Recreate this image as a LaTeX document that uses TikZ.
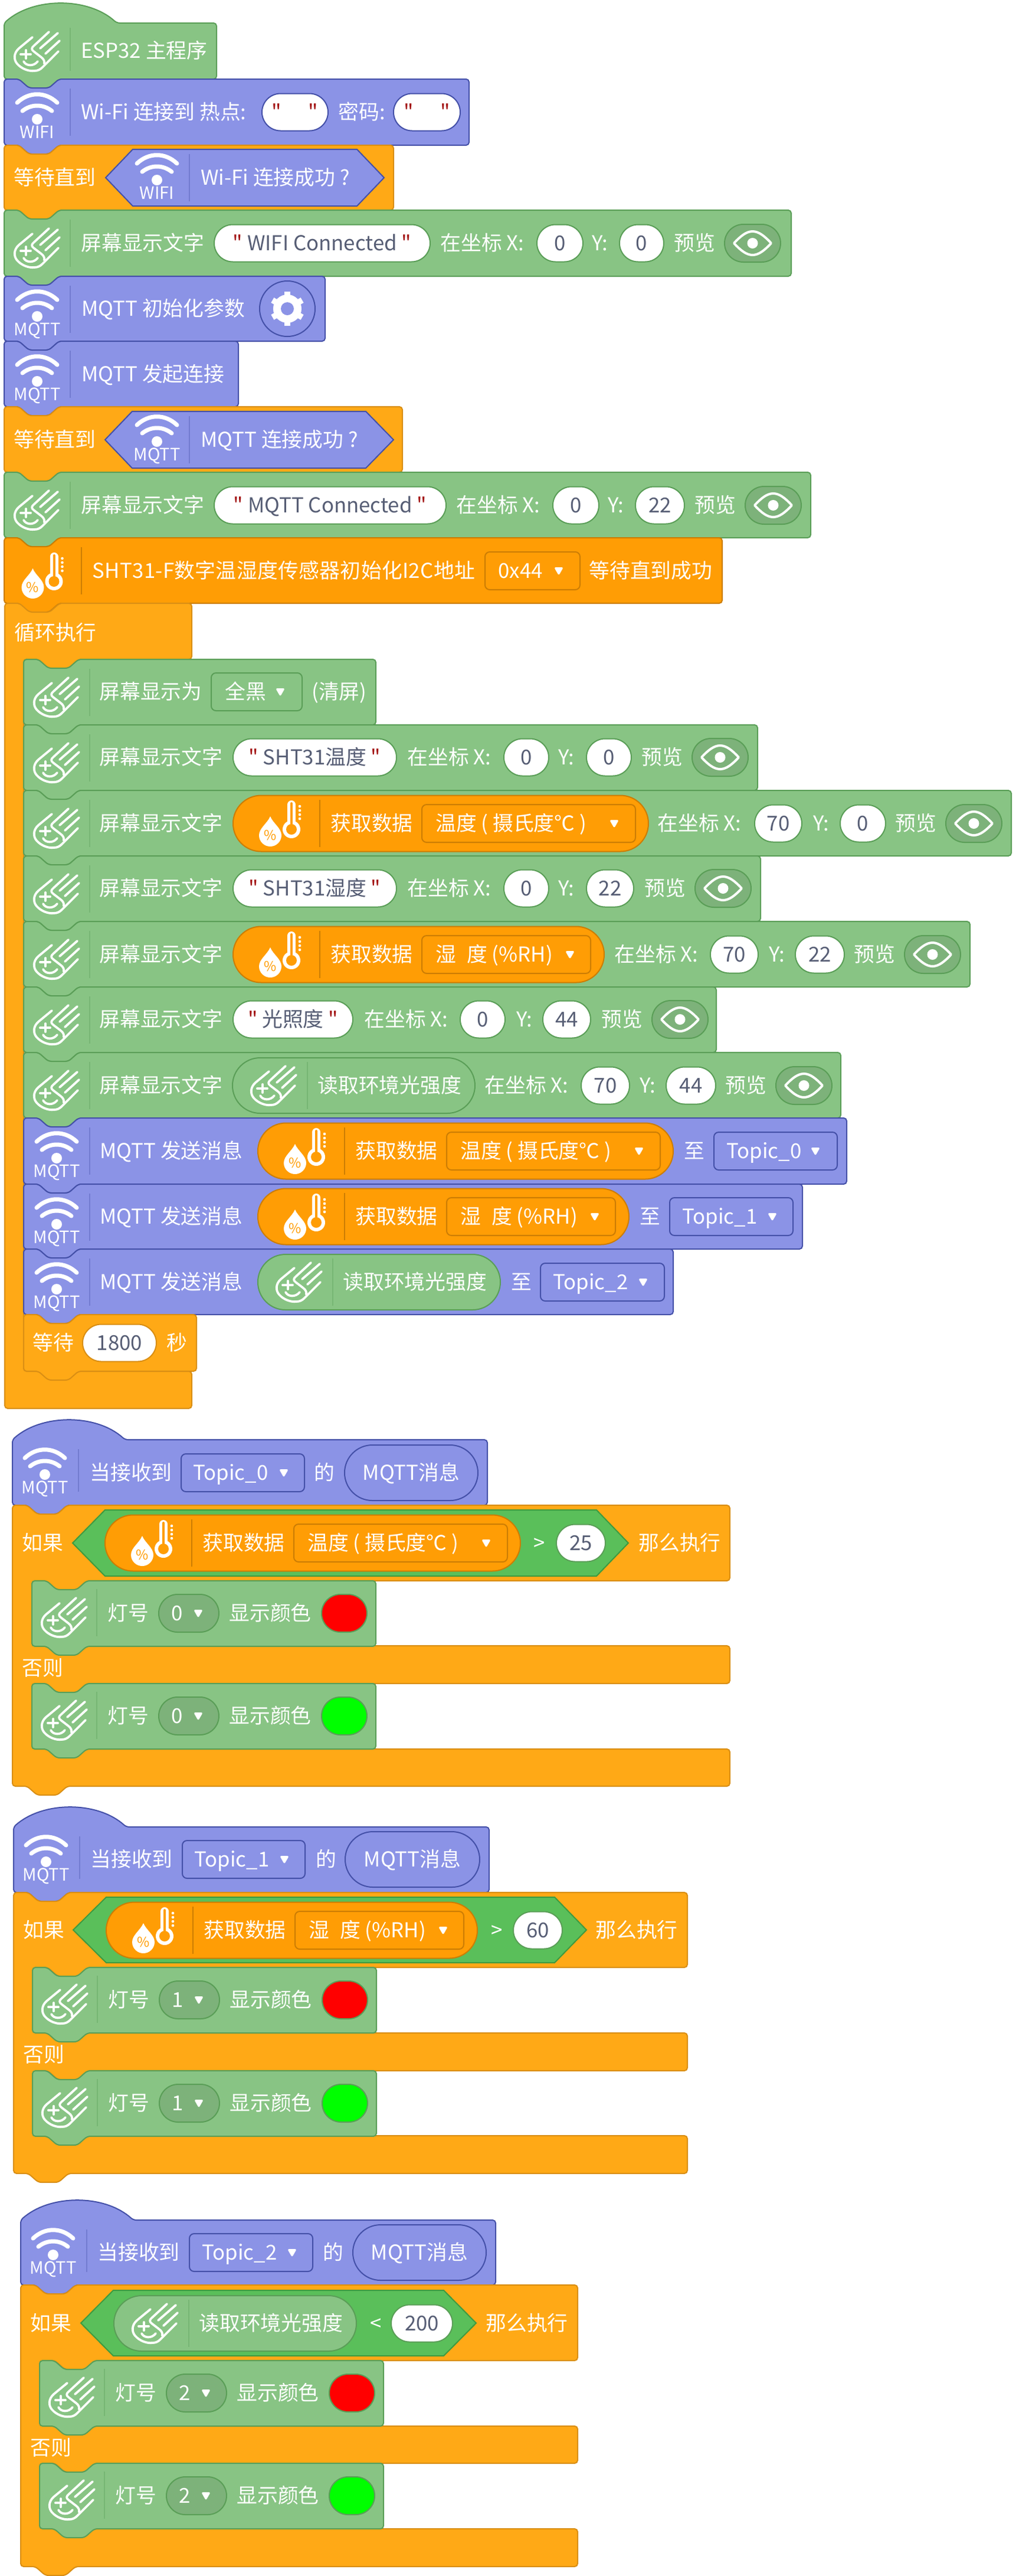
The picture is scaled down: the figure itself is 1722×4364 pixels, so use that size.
\documentclass[tikz,border=0pt]{standalone}
\usepackage{fontspec}
\setmainfont{Noto Sans CJK SC}
\newfontfamily\qfont{Noto Sans CJK SC}
\usetikzlibrary{shapes.misc}

\definecolor{gfill}{HTML}{88C484}
\definecolor{gline}{HTML}{5A9E57}
\definecolor{gdark}{HTML}{7DB27A}
\definecolor{bfill}{HTML}{8B93E6}
\definecolor{bline}{HTML}{4450A8}
\definecolor{lfill}{HTML}{FFA916}
\definecolor{lline}{HTML}{D98E14}
\definecolor{sfill}{HTML}{FF9D05}
\definecolor{sline}{HTML}{CC7D04}
\definecolor{hfill}{HTML}{5ABF5A}
\definecolor{hline}{HTML}{3F9A3F}
\definecolor{valtxt}{HTML}{575E75}
\definecolor{qred}{HTML}{A31515}

% blocks
\newcommand{\blk}[5]{\draw[#1] (#2,#4) -- ++(25,0) -- ++(17,15) -- ++(34,0) -- ++(17,-15) -- (#3,#4) -- (#3,#5) -- (#2+93,#5) -- ++(-17,15) -- ++(-34,0) -- ++(-17,-15) -- (#2,#5) -- cycle;}
\newcommand{\hatblk}[5]{\draw[#1] (#2,#4) .. controls (#2+50,#4-44) and (#2+142,#4-44) .. (#2+191,#4) -- (#3,#4) -- (#3,#5) -- (#2+93,#5) -- ++(-17,15) -- ++(-34,0) -- ++(-17,-15) -- (#2,#5) -- cycle;}
\newcommand{\ifblk}[8]{\draw[lblk] (#1,#3) -- ++(25,0) -- ++(17,15) -- ++(34,0) -- ++(17,-15) -- (#2,#3) -- (#2,#4) -- (#1+126,#4) -- ++(-17,15) -- ++(-34,0) -- ++(-17,-15) -- (#1+33,#4) -- (#1+33,#5) -- (#2,#5) -- (#2,#6) -- (#1+126,#6) -- ++(-17,15) -- ++(-34,0) -- ++(-17,-15) -- (#1+33,#6) -- (#1+33,#7) -- (#2,#7) -- (#2,#8) -- (#1+93,#8) -- ++(-17,15) -- ++(-34,0) -- ++(-17,-15) -- (#1,#8) -- cycle;}
\newcommand{\hexb}[7]{\draw[#1] (#2,{(#6+#7)/2}) -- (#3,#6) -- (#4,#6) -- (#5,{(#6+#7)/2}) -- (#4,#7) -- (#3,#7) -- cycle;}

% texts and fields
\newcommand{\lbl}[4]{\node[lbl] (#1) at ({#2},{#3}) {#4};}
\newcommand{\pil}[6]{\pgfmathsetmacro{\pw}{(#4-#3)/2}\node[#1, minimum width=\pw pt] (#2) at ({(#3+#4)/2},{#5}) {#6};}
\newcommand{\ddown}[8]{\pgfmathsetmacro{\pw}{(#4-#3)/2}\node[#1, minimum width=\pw pt] (#2) at ({(#3+#4)/2},{#7}) {};
  \lbl{#2t}{#5}{#7}{#8}
  \fill[white, rounded corners=1.5pt] (#6-8,#7-6) -- (#6+8,#7-6) -- (#6,#7+8) -- cycle;}
\newcommand{\q}[1]{{\qfont\color{qred}"} #1 {\qfont\color{qred}"}}

% icons
\newcommand{\handicon}[2]{\begin{scope}[shift={(#1,#2)}, white, line width=1.9pt, line cap=round, line join=round]
  \draw (-8,-24) -- (-31,-5) .. controls (-40,3) and (-40,14) .. (-34,21) .. controls (-26,30) and (-14,34) .. (-5,33) .. controls (1,33) and (5,31) .. (9,27) -- (36,0);
  \draw (20,-33) -- (-5,-10) .. controls (-10,-6) and (-10,-3) .. (-6,0) -- (7,10) .. controls (11,13) and (13,17) .. (12,21);
  \draw (35,-31) -- (5,-5);
  \draw (38,-18) -- (14,4);
  \draw (-28,5) -- (-11,5) (-19,-2) -- (-19,12);
  \draw (-23,17) .. controls (-19,25) and (-6,26) .. (1,17);
\end{scope}}
\newcommand{\wifiicon}[4]{\begin{scope}[shift={(#2,#3)}]
  \draw[white, line width=3.5pt, line cap=round] (-34,-28) .. controls (-14,-47) and (14,-47) .. (34,-28);
  \draw[white, line width=3.5pt, line cap=round] (-25,-14) .. controls (-10,-26) and (10,-26) .. (25,-14);
  \fill[white] (0,0) circle (9);
  \node[wlbl] (#1) at (0,22) {#4};
\end{scope}}
\newcommand{\sensor}[3]{\begin{scope}[shift={(#2,#3)}]
  \fill[white] (-18,-12) .. controls (-13,0) and (1,8) .. (1,20) .. controls (1,31) and (-8,39) .. (-18,39) .. controls (-28,39) and (-37,31) .. (-37,20) .. controls (-37,8) and (-23,0) .. (-18,-12) -- cycle;
  \node[pct] (#1) at (-18,20) {\%};
  \draw[white, line width=7pt, line cap=round] (18,-32) -- (18,5);
  \fill[white] (18,10) circle (15);
  \fill[sfill] (18,10) circle (9);
  \draw[sfill, line width=2pt, line cap=round] (18,-34) -- (18,4);
  \foreach \d in {-29,-22,-15,-8} \fill[white] (32,\d) circle (2.3);
\end{scope}}
\newcommand{\eyepill}[3]{\begin{scope}[shift={(#2,#3)}]
  \pil{toggle}{#1}{0}{95}{0}{}
  \draw[white, line width=2pt, line join=round] (16,0) .. controls (27,-12) and (37,-20) .. (47.5,-20) .. controls (58,-20) and (68,-12) .. (79,0) .. controls (68,12) and (58,20) .. (47.5,20) .. controls (37,20) and (27,12) .. (16,0) -- cycle;
  \fill[white] (47.5,0) circle (9);
\end{scope}}
\newcommand{\gear}[3]{\begin{scope}[shift={(#2,#3)}]
  \pil{pillb}{#1}{-47}{47}{0}{}
  \foreach \a in {30,90,...,330} \draw[white, line width=5pt] (0,0) -- (\a:29);
  \fill[white] (0,0) circle (24);
  \fill[bfill] (0,0) circle (11);
\end{scope}}

% whole rows
\newcommand{\scrblk}[4]{\blk{gblk}{#1}{#2}{#3}{#4}\begin{scope}[shift={(#1,#3)}]\draw[barg] (112,16) -- (112,96);\handicon{56}{64}\end{scope}}
\newcommand{\mqblk}[6]{\blk{bblk}{#2}{#3}{#4}{#5}\begin{scope}[shift={(#2,#4)}]\draw[barb] (112,16) -- (112,96);\wifiicon{#1}{56}{68}{#6}\end{scope}}
\newcommand{\coordx}[6]{\lbl{#1c}{#3}{#2}{在坐标 X:}\pil{valg}{#1x}{#4}{#5}{#2}{#6}}
\newcommand{\coordy}[7]{\lbl{#1l}{#3}{#2}{Y:}\pil{valg}{#1y}{#4}{#5}{#2}{#6}\lbl{#1v}{#7}{#2}{预览}\pgfmathsetmacro{\ev}{#7+86}\eyepill{#1e}{\ev}{#2}}
\newcommand{\datapill}[7]{\begin{scope}[shift={(#2,#3)}]
  \pil{pillo}{#1}{0}{#4}{0}{}
  \draw[baro] (147,-40) -- (147,40);
  \sensor{#1s}{81}{0}
  \lbl{#1d}{165}{0}{获取数据}
  \ddown{ddo}{#1m}{320}{#5}{343}{#6}{0}{#7}
\end{scope}}
\newcommand{\tpill}[3]{\datapill{#1}{#2}{#3}{704}{682}{646}{温度 ( 摄氏度℃ )}}
\newcommand{\hpill}[3]{\datapill{#1}{#2}{#3}{629}{606}{571}{湿\hspace{9pt}度 (\%RH)}}
\newcommand{\lightpill}[3]{\begin{scope}[shift={(#2,#3)}]
  \pil{pillg}{#1}{0}{411}{0}{}
  \draw[barg] (127,-40) -- (127,40);
  \handicon{70}{0}
  \lbl{#1d}{144}{0}{读取环境光强度}
\end{scope}}
\newcommand{\lamp}[5]{\begin{scope}[shift={(#2,#3)}]
  \blk{gblk}{0}{583}{0}{111}
  \draw[barg] (110,14) -- (110,94);
  \handicon{55}{62}
  \lbl{#1a}{128}{55}{灯号}
  \ddown{ddt}{#1n}{215}{317}{236}{282}{55}{#4}
  \lbl{#1b}{334}{55}{显示颜色}
  \pil{lampc, fill=#5}{#1c}{491}{568}{55}{}
\end{scope}}

\begin{document}
\begin{tikzpicture}[x=.5pt, y=-.5pt,
    gblk/.style={fill=gfill, draw=gline, line width=1pt, rounded corners=2.5pt},
    bblk/.style={fill=bfill, draw=bline, line width=1pt, rounded corners=2.5pt},
    lblk/.style={fill=lfill, draw=lline, line width=1pt, rounded corners=2.5pt},
    sblk/.style={fill=sfill, draw=sline, line width=1pt, rounded corners=2.5pt},
    hexb/.style={fill=bfill, draw=bline, line width=1pt},
    hexg/.style={fill=hfill, draw=hline, line width=1pt},
    lbl/.style={anchor=west, inner sep=0pt, text=white, text height=15pt, text depth=3pt, font=\fontsize{17.4}{20}\selectfont},
    wlbl/.style={inner sep=0pt, text=white, text height=10pt, text depth=0pt, font=\fontsize{14.5}{16}\selectfont},
    pct/.style={inner sep=0pt, text=sfill, font=\fontsize{11.5}{12}\selectfont},
    field/.style={rounded rectangle, inner sep=0pt, line width=1pt, minimum height=31.5pt, text height=15pt, text depth=3pt, font=\fontsize{17.4}{20}\selectfont},
    valg/.style={field, fill=white, draw=gline, text=valtxt},
    valb/.style={field, fill=white, draw=bline, text=valtxt},
    valo/.style={field, fill=white, draw=lline, text=valtxt},
    pillb/.style={field, fill=bfill, draw=bline, text=white, minimum height=47pt},
    pillo/.style={field, fill=sfill, draw=sline, text=white, minimum height=47.5pt},
    pillg/.style={field, fill=gfill, draw=gline, text=white, minimum height=47pt},
    toggle/.style={field, fill=gdark, draw=gline, minimum height=32pt},
    lampc/.style={field, draw=gline, minimum height=32pt},
    ddbox/.style={rectangle, rounded corners=4pt, inner sep=0pt, line width=1pt, minimum height=32pt},
    ddg/.style={ddbox, fill=gfill, draw=gline},
    ddb/.style={ddbox, fill=bfill, draw=bline},
    ddo/.style={ddbox, fill=sfill, draw=sline},
    ddt/.style={field, fill=gdark, draw=gline, minimum height=32pt},
    barg/.style={draw=gline, opacity=.35, line width=.8pt},
    barb/.style={draw=bline, opacity=.35, line width=.8pt},
    baro/.style={draw=sline, line width=.8pt}
]
    \useasboundingbox (0,0) rectangle (1722,4364);
    % Inicio
    \hatblk{gblk}{7}{367}{39}{134}
    \draw[barg] (119,47) -- (119,120);
    \handicon{63}{87}
    \lbl{espmain}{137}{86}{ESP32 主程序}
    % Wi-Fi
    \mqblk{wifia}{7}{795}{134}{246}{WIFI}
    \lbl{wifit}{137}{190}{Wi-Fi 连接到 热点:}
    \pil{valb}{ssid}{444}{556}{190}{\q{\hspace{15pt}}}
    \lbl{wifip}{573}{190}{密码:}
    \pil{valb}{pass}{667}{780}{190}{\q{\hspace{15pt}}}
    \blk{lblk}{7}{667}{246}{356}
    \lbl{waita}{23}{301}{等待直到}
    \hexb{hexb}{179}{225}{605}{651}{253}{349}
    \draw[barb] (321,261) -- (321,341);
    \wifiicon{wifib}{266}{305}{WIFI}
    \lbl{waitat}{340}{301}{Wi-Fi 连接成功 ?}
    \scrblk{7}{1341}{356}{468}
    \lbl{scra}{137}{412}{屏幕显示文字}
    \pil{valg}{scras}{363}{729}{412}{\q{WIFI Connected}}
    \coordx{wc}{412}{746}{910}{988}{0}
    \coordy{wc}{412}{1003}{1050}{1125}{0}{1142}
    % MQTT
    \mqblk{mqa}{7}{551}{468}{578}{MQTT}
    \lbl{mqinit}{138}{523}{MQTT 初始化参数}
    \gear{mqgear}{487}{523}
    \mqblk{mqb}{7}{404}{578}{689}{MQTT}
    \lbl{mqconn}{138}{634}{MQTT 发起连接}
    \blk{lblk}{7}{682}{689}{800}
    \lbl{waitb}{23}{745}{等待直到}
    \hexb{hexb}{178}{224}{620}{667}{697}{793}
    \draw[barb] (321,705) -- (321,785);
    \wifiicon{mqc}{266}{748}{MQTT}
    \lbl{waitbt}{340}{745}{MQTT 连接成功 ?}
    \scrblk{7}{1374}{800}{911}
    \lbl{scrb}{137}{856}{屏幕显示文字}
    \pil{valg}{scrbs}{363}{756}{856}{\q{MQTT Connected}}
    \coordx{mc}{856}{773}{937}{1015}{0}
    \coordy{mc}{856}{1030}{1077}{1160}{22}{1177}
    % Sensor
    \blk{sblk}{7}{1224}{911}{1022}
    \draw[baro] (138,927) -- (138,1007);
    \sensor{shtic}{73.5}{975}
    \lbl{shtt}{156}{967}{\addfontfeatures{LetterSpace=1}SHT31-F数字温湿度传感器初始化I2C地址}
    \ddown{ddo}{shtad}{822}{983}{844}{947}{967}{0x44}
    \lbl{shtw}{998}{967}{等待直到成功}
    % Laco
    \draw[lblk] (8,1022) -- ++(25,0) -- ++(17,15) -- ++(34,0) -- ++(17,-15) -- (325,1022) -- (325,1117) -- (133,1117) -- ++(-17,15) -- ++(-34,0) -- ++(-17,-15) -- (40,1117) -- (40,2323) -- (325,2323) -- (325,2386) -- (8,2386) -- cycle;
    \lbl{loopt}{24}{1072}{循环执行}
    \scrblk{40}{637}{1117}{1228}
    \lbl{clra}{168}{1172}{屏幕显示为}
    \ddown{ddg}{clrd}{358}{512}{381}{475}{1172}{全黑}
    \lbl{clrb}{528}{1172}{(清屏)}
    \scrblk{40}{1284}{1228}{1339}
    \lbl{rta}{168}{1283}{屏幕显示文字}
    \pil{valg}{rts}{395}{672}{1283}{\q{SHT31温度}}
    \coordx{ra}{1283}{690}{854}{930}{0}
    \coordy{ra}{1283}{946}{994}{1070}{0}{1087}
    \scrblk{40}{1714}{1339}{1450}
    \lbl{rda}{168}{1395}{屏幕显示文字}
    \tpill{rdp}{395}{1395}
    \coordx{rb}{1395}{1114}{1279}{1359}{70}
    \coordy{rb}{1395}{1378}{1424}{1501}{0}{1517}
    \scrblk{40}{1289}{1450}{1561}
    \lbl{rha}{168}{1505}{屏幕显示文字}
    \pil{valg}{rhs}{395}{672}{1505}{\q{SHT31湿度}}
    \coordx{rc}{1505}{690}{854}{930}{0}
    \coordy{rc}{1505}{946}{994}{1074}{22}{1092}
    \scrblk{40}{1644}{1561}{1672}
    \lbl{reb}{168}{1617}{屏幕显示文字}
    \hpill{rep}{395}{1617}
    \coordx{rd}{1617}{1041}{1204}{1285}{70}
    \coordy{rd}{1617}{1303}{1348}{1431}{22}{1447}
    \scrblk{40}{1214}{1672}{1783}
    \lbl{rla}{168}{1727}{屏幕显示文字}
    \pil{valg}{rls}{395}{598}{1727}{\q{光照度}}
    \coordx{re}{1727}{617}{780}{856}{0}
    \coordy{re}{1727}{875}{920}{1001}{44}{1019}
    \scrblk{40}{1425}{1783}{1894}
    \lbl{rma}{168}{1839}{屏幕显示文字}
    \lightpill{rmp}{394}{1839}
    \coordx{rf}{1839}{821}{985}{1067}{70}
    \coordy{rf}{1839}{1084}{1129}{1213}{44}{1229}
    \mqblk{sda}{40}{1435}{1894}{2006}{MQTT}
    \lbl{sdat}{169}{1950}{MQTT 发送消息}
    \tpill{sdap}{437}{1950}
    \lbl{sdaz}{1159}{1950}{至}
    \ddown{ddb}{sdad}{1210}{1419}{1231}{1382}{1950}{Topic\_0}
    \mqblk{sdb}{40}{1360}{2006}{2116}{MQTT}
    \lbl{sdbt}{169}{2061}{MQTT 发送消息}
    \hpill{sdbp}{437}{2061}
    \lbl{sdbz}{1084}{2061}{至}
    \ddown{ddb}{sdbd}{1135}{1344}{1156}{1309}{2061}{Topic\_1}
    \mqblk{sdc}{40}{1141}{2116}{2227}{MQTT}
    \lbl{sdct}{169}{2172}{MQTT 发送消息}
    \lightpill{sdcp}{437}{2172}
    \lbl{sdcz}{866}{2172}{至}
    \ddown{ddb}{sdcd}{916}{1126}{937}{1090}{2172}{Topic\_2}
    \blk{lblk}{40}{333}{2227}{2323}
    \lbl{dlya}{55}{2275}{等待}
    \pil{valo}{dlyn}{140}{265}{2275}{1800}
    \lbl{dlyb}{282}{2275}{秒}
    % Topic 0
    \hatblk{bblk}{21}{826}{2439}{2550}
    \draw[barb] (133,2455) -- (133,2527);
    \wifiicon{tpa}{76}{2498}{MQTT}
    \lbl{tpat}{152}{2495}{当接收到}
    \ddown{ddb}{tpad}{307}{516}{327}{481}{2495}{Topic\_0}
    \lbl{tpaz}{532}{2495}{的}
    \pil{pillb}{tpam}{584}{810}{2495}{MQTT消息}
    \ifblk{21}{1237}{2550}{2678}{2788}{2852}{2963}{3026}
    \lbl{ifa}{37}{2614}{如果}
    \hexb{hexg}{123}{178}{1011}{1065}{2558}{2670}
    \tpill{ifap}{178}{2614}
    \lbl{ifao}{904}{2614}{>}
    \pil{valg}{ifan}{943}{1026}{2614}{25}
    \lbl{ifat}{1082}{2614}{那么执行}
    \lamp{laa}{54}{2678}{0}{red}
    \lbl{ela}{37}{2826}{否则}
    \lamp{lab}{54}{2852}{0}{green}
    % Topic 1
    \hatblk{bblk}{23}{829}{3095}{3206}
    \draw[barb] (135,3111) -- (135,3183);
    \wifiicon{tpb}{78}{3154}{MQTT}
    \lbl{tpbt}{153}{3150}{当接收到}
    \ddown{ddb}{tpbd}{309}{517}{329}{482}{3150}{Topic\_1}
    \lbl{tpbz}{535}{3150}{的}
    \pil{pillb}{tpbm}{585}{813}{3150}{MQTT消息}
    \ifblk{23}{1165}{3206}{3333}{3444}{3508}{3618}{3682}
    \lbl{ifb}{39}{3270}{如果}
    \hexb{hexg}{124}{180}{940}{994}{3214}{3325}
    \hpill{ifbp}{180}{3270}
    \lbl{ifbo}{832}{3270}{>}
    \pil{valg}{ifbn}{870}{953}{3270}{60}
    \lbl{ifbt}{1009}{3270}{那么执行}
    \lamp{lba}{55}{3333}{1}{red}
    \lbl{elb}{39}{3481}{否则}
    \lamp{lbb}{55}{3508}{1}{green}
    % Topic 2
    \hatblk{bblk}{35}{840}{3761}{3871}
    \draw[barb] (147,3777) -- (147,3849);
    \wifiicon{tpc}{90}{3820}{MQTT}
    \lbl{tpct}{165}{3816}{当接收到}
    \ddown{ddb}{tpcd}{321}{530}{342}{495}{3816}{Topic\_2}
    \lbl{tpcz}{547}{3816}{的}
    \pil{pillb}{tpcm}{598}{824}{3816}{MQTT消息}
    \ifblk{35}{979}{3871}{3999}{4110}{4173}{4284}{4348}
    \lbl{ifc}{51}{3936}{如果}
    \hexb{hexg}{137}{192}{752}{807}{3880}{3991}
    \lightpill{ifcp}{193}{3936}
    \lbl{ifco}{627}{3936}{<}
    \pil{valg}{ifcn}{663}{767}{3936}{200}
    \lbl{ifct}{823}{3936}{那么执行}
    \lamp{lca}{67}{3999}{2}{red}
    \lbl{elc}{51}{4147}{否则}
    \lamp{lcb}{67}{4173}{2}{green}
\end{tikzpicture}
\end{document}
